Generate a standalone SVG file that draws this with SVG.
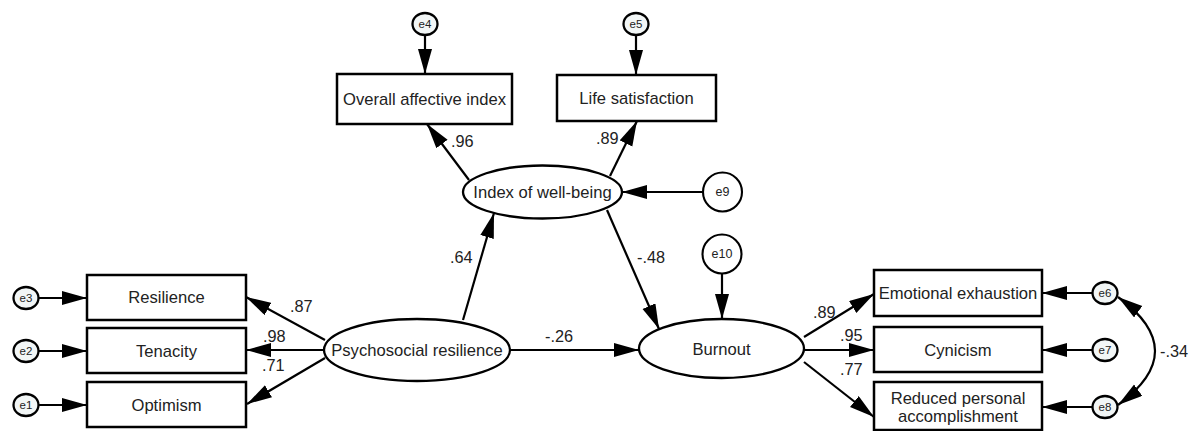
<svg xmlns="http://www.w3.org/2000/svg" width="1192" height="431" viewBox="0 0 1192 431">
<defs>
<marker id="ah" markerUnits="userSpaceOnUse" markerWidth="27" markerHeight="15" refX="25" refY="7" orient="auto-start-reverse">
<path d="M0,0 L25,7 L0,14 z" fill="#000"/>
</marker>
<style>
.box{fill:#fff;stroke:#000;stroke-width:2.5}
.lat{fill:#fff;stroke:#000;stroke-width:2.3}
.err{fill:#f2f6f6;stroke:#000;stroke-width:2.3}
.errb{fill:#fff;stroke:#000;stroke-width:2.1}
.t{font-family:"Liberation Sans",Arial,sans-serif;font-size:16.6px;fill:#222;text-anchor:middle}
.lb{font-family:"Liberation Sans",Arial,sans-serif;font-size:16.3px;fill:#222}
.et{font-family:"Liberation Sans",Arial,sans-serif;font-size:11.5px;fill:#222;text-anchor:middle}
.eb{font-family:"Liberation Sans",Arial,sans-serif;font-size:12.5px;fill:#222;text-anchor:middle}
.c line,.c path{stroke:#000;stroke-width:2.2;fill:none;marker-end:url(#ah)}
</style>
</defs>
<rect width="1192" height="431" fill="#fff"/>

<g class="c" id="connectors">
<line x1="39" y1="298" x2="87" y2="298"/>
<line x1="39" y1="351" x2="87" y2="351"/>
<line x1="39" y1="405" x2="87" y2="405"/>
<line x1="325" y1="340" x2="246" y2="297"/>
<line x1="324" y1="350" x2="246" y2="350"/>
<line x1="325" y1="358" x2="247" y2="404"/>
<line x1="425" y1="35" x2="425" y2="74"/>
<line x1="636" y1="35" x2="636" y2="75"/>
<line x1="469" y1="180" x2="427" y2="124"/>
<line x1="610" y1="176" x2="637" y2="121"/>
<line x1="703" y1="192" x2="622" y2="192"/>
<line x1="463" y1="320" x2="494" y2="213"/>
<line x1="607" y1="210" x2="659" y2="329"/>
<line x1="722" y1="273.5" x2="722" y2="319"/>
<line x1="510" y1="350" x2="639" y2="350"/>
<line x1="804" y1="337" x2="874" y2="294"/>
<line x1="804" y1="350" x2="874" y2="350"/>
<line x1="804" y1="362" x2="874" y2="417"/>
<line x1="1092" y1="293" x2="1042" y2="293"/>
<line x1="1092" y1="350" x2="1042" y2="350"/>
<line x1="1092" y1="407" x2="1042" y2="407"/>
<path d="M1118,297 Q1192,351 1118,405" style="marker-start:url(#ah)"/>
</g>

<g id="labels">
<text class="lb" x="290" y="312">.87</text>
<text class="lb" x="263" y="342">.98</text>
<text class="lb" x="262" y="371">.71</text>
<text class="lb" x="451" y="147">.96</text>
<text class="lb" x="596" y="144">.89</text>
<text class="lb" x="450" y="263">.64</text>
<text class="lb" x="637" y="263">-.48</text>
<text class="lb" x="545" y="342">-.26</text>
<text class="lb" x="813" y="318">.89</text>
<text class="lb" x="840" y="341">.95</text>
<text class="lb" x="840" y="375">.77</text>
<text class="lb" x="1160" y="357">-.34</text>
</g>

<g id="e3"><ellipse class="err" cx="26" cy="298" rx="12.5" ry="11"/><text class="et" x="26" y="302">e3</text></g>
<g id="e2"><ellipse class="err" cx="26" cy="351" rx="12.5" ry="11"/><text class="et" x="26" y="355">e2</text></g>
<g id="e1"><ellipse class="err" cx="26" cy="405" rx="12.5" ry="11"/><text class="et" x="26" y="409">e1</text></g>
<g id="resilience"><rect class="box" x="87" y="275" width="159" height="45"/><text class="t" x="166.5" y="303">Resilience</text></g>
<g id="tenacity"><rect class="box" x="87" y="328" width="159" height="45"/><text class="t" x="166.5" y="356.5">Tenacity</text></g>
<g id="optimism"><rect class="box" x="87" y="382" width="159" height="45"/><text class="t" x="166.5" y="410.5">Optimism</text></g>
<g id="psychosocial"><ellipse class="lat" cx="417" cy="350" rx="93" ry="31"/><text class="t" x="417" y="356">Psychosocial resilience</text></g>

<g id="e4"><ellipse class="err" cx="425" cy="24" rx="12.5" ry="11"/><text class="et" x="425" y="28">e4</text></g>
<g id="e5"><ellipse class="err" cx="636" cy="24" rx="12.5" ry="11"/><text class="et" x="636" y="28">e5</text></g>
<g id="overall"><rect class="box" x="337" y="74" width="175" height="50"/><text class="t" x="424.5" y="105">Overall affective index</text></g>
<g id="life"><rect class="box" x="557" y="75" width="159" height="46"/><text class="t" x="636.5" y="104">Life satisfaction</text></g>
<g id="wellbeing"><ellipse class="lat" cx="542.5" cy="192" rx="79.5" ry="26.5"/><text class="t" x="542.5" y="198">Index of well-being</text></g>
<g id="e9"><circle class="errb" cx="722.5" cy="192" r="19.5"/><text class="eb" x="722.5" y="196">e9</text></g>
<g id="e10"><circle class="errb" cx="722" cy="254" r="19.5"/><text class="eb" x="722" y="258">e10</text></g>
<g id="burnout"><ellipse class="lat" cx="721.5" cy="348.5" rx="82.5" ry="29.5"/><text class="t" x="721.5" y="355">Burnout</text></g>

<g id="emotional"><rect class="box" x="874" y="270" width="168" height="46"/><text class="t" x="958" y="299">Emotional exhaustion</text></g>
<g id="cynicism"><rect class="box" x="874" y="327" width="168" height="45"/><text class="t" x="958" y="355.5">Cynicism</text></g>
<g id="reduced"><rect class="box" x="874" y="382" width="168" height="48"/><text class="t" x="958" y="404">Reduced personal</text><text class="t" x="958" y="422">accomplishment</text></g>
<g id="e6"><ellipse class="err" cx="1105" cy="293" rx="12.5" ry="11"/><text class="et" x="1105" y="297">e6</text></g>
<g id="e7"><ellipse class="err" cx="1105" cy="350" rx="12.5" ry="11"/><text class="et" x="1105" y="354">e7</text></g>
<g id="e8"><ellipse class="err" cx="1105" cy="407" rx="12.5" ry="11"/><text class="et" x="1105" y="411">e8</text></g>
</svg>
